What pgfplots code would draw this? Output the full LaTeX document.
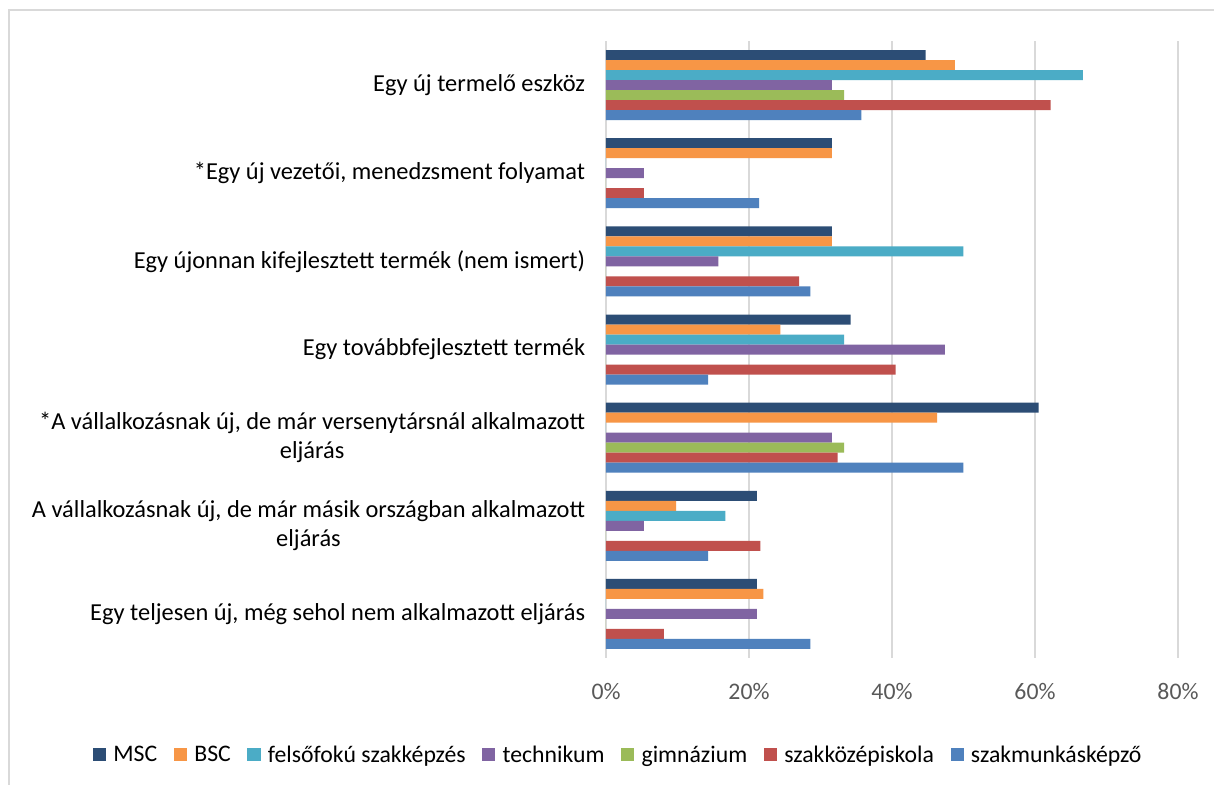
\documentclass[border=0pt]{standalone}
\usepackage{pgfplots}
\pgfplotsset{compat=1.18}
\usepackage{fontspec}
\setmainfont{Carlito}
\definecolor{cMSC}{HTML}{2C4D75}
\definecolor{cBSC}{HTML}{F79646}
\definecolor{cFel}{HTML}{4BACC6}
\definecolor{cTech}{HTML}{8064A2}
\definecolor{cGim}{HTML}{9BBB59}
\definecolor{cSzk}{HTML}{C0504D}
\definecolor{cSzm}{HTML}{4F81BD}
\definecolor{gridc}{HTML}{D9D9D9}
\begin{document}
\begin{tikzpicture}
\useasboundingbox (0,0) rectangle (910.5pt,588.75pt);
\fill[white] (0,0) rectangle (910.5pt,588.75pt);
\draw[gridc, line width=1.2pt] (6.75pt,0) -- (6.75pt,581.25pt) -- (912pt,581.25pt);
\begin{axis}[
  at={(454.5pt,95.25pt)}, anchor=south west,
  scale only axis, width=429pt, height=462.75pt,
  xbar=0pt, bar width=7.5pt,
  xmin=0, xmax=80, ymin=-0.5, ymax=6.5, y dir=reverse,
  ytick={0,1,2,3,4,5,6},
  yticklabels={{Egy új termelő eszköz},{*Egy új vezetői, menedzsment folyamat},{Egy újonnan kifejlesztett termék (nem ismert)},{Egy továbbfejlesztett termék},{*A vállalkozásnak új, de már versenytársnál alkalmazott\\eljárás},{A vállalkozásnak új, de már másik országban alkalmazott\\eljárás},{Egy teljesen új, még sehol nem alkalmazott eljárás}},
  xtick={0,20,40,60,80},
  xticklabels={0\%,20\%,40\%,60\%,80\%},
  xmajorgrids, ymajorgrids=false,
  grid style={draw=gridc, line width=1.2pt},
  axis line style={draw=none},
  major tick length=0pt,
  xticklabel style={font=\fontsize{17.8pt}{20pt}\selectfont, text=black!65, anchor=center, yshift=-25pt},
  yticklabel style={font=\fontsize{18.3pt}{22pt}\selectfont, align=center, anchor=east, inner sep=0pt, xshift=-15.5pt},
  legend columns=-1,
  legend style={draw=none, fill=none, at={(0.022,-0.157)}, anchor=center,
    font=\fontsize{17.8pt}{20pt}\selectfont,
    /tikz/every even column/.append style={column sep=10.5pt},
    /tikz/every odd column/.append style={column sep=3.5pt},
    inner sep=0pt},
  legend image code/.code={\fill[#1] (0pt,-4.9pt) rectangle (9.8pt,4.9pt);},
]
\addplot[fill=cMSC, draw=none, bar shift=22.5pt] coordinates {(44.7,0) (31.6,1) (31.6,2) (34.2,3) (60.5,4) (21.1,5) (21.1,6)};
\addplot[fill=cBSC, draw=none, bar shift=15pt] coordinates {(48.8,0) (31.6,1) (31.6,2) (24.4,3) (46.3,4) (9.8,5) (22.0,6)};
\addplot[fill=cFel, draw=none, bar shift=7.5pt] coordinates {(66.7,0) (0,1) (50.0,2) (33.3,3) (0,4) (16.7,5) (0,6)};
\addplot[fill=cTech, draw=none, bar shift=0pt] coordinates {(31.6,0) (5.3,1) (15.7,2) (47.4,3) (31.6,4) (5.3,5) (21.1,6)};
\addplot[fill=cGim, draw=none, bar shift=-7.5pt] coordinates {(33.3,0) (0,1) (0,2) (0,3) (33.3,4) (0,5) (0,6)};
\addplot[fill=cSzk, draw=none, bar shift=-15pt] coordinates {(62.2,0) (5.3,1) (27.0,2) (40.5,3) (32.4,4) (21.6,5) (8.1,6)};
\addplot[fill=cSzm, draw=none, bar shift=-22.5pt] coordinates {(35.7,0) (21.4,1) (28.6,2) (14.3,3) (50.0,4) (14.3,5) (28.6,6)};
\legend{MSC,BSC,felsőfokú szakképzés,technikum,gimnázium,szakközépiskola,szakmunkásképző}
\end{axis}
\end{tikzpicture}
\end{document}
